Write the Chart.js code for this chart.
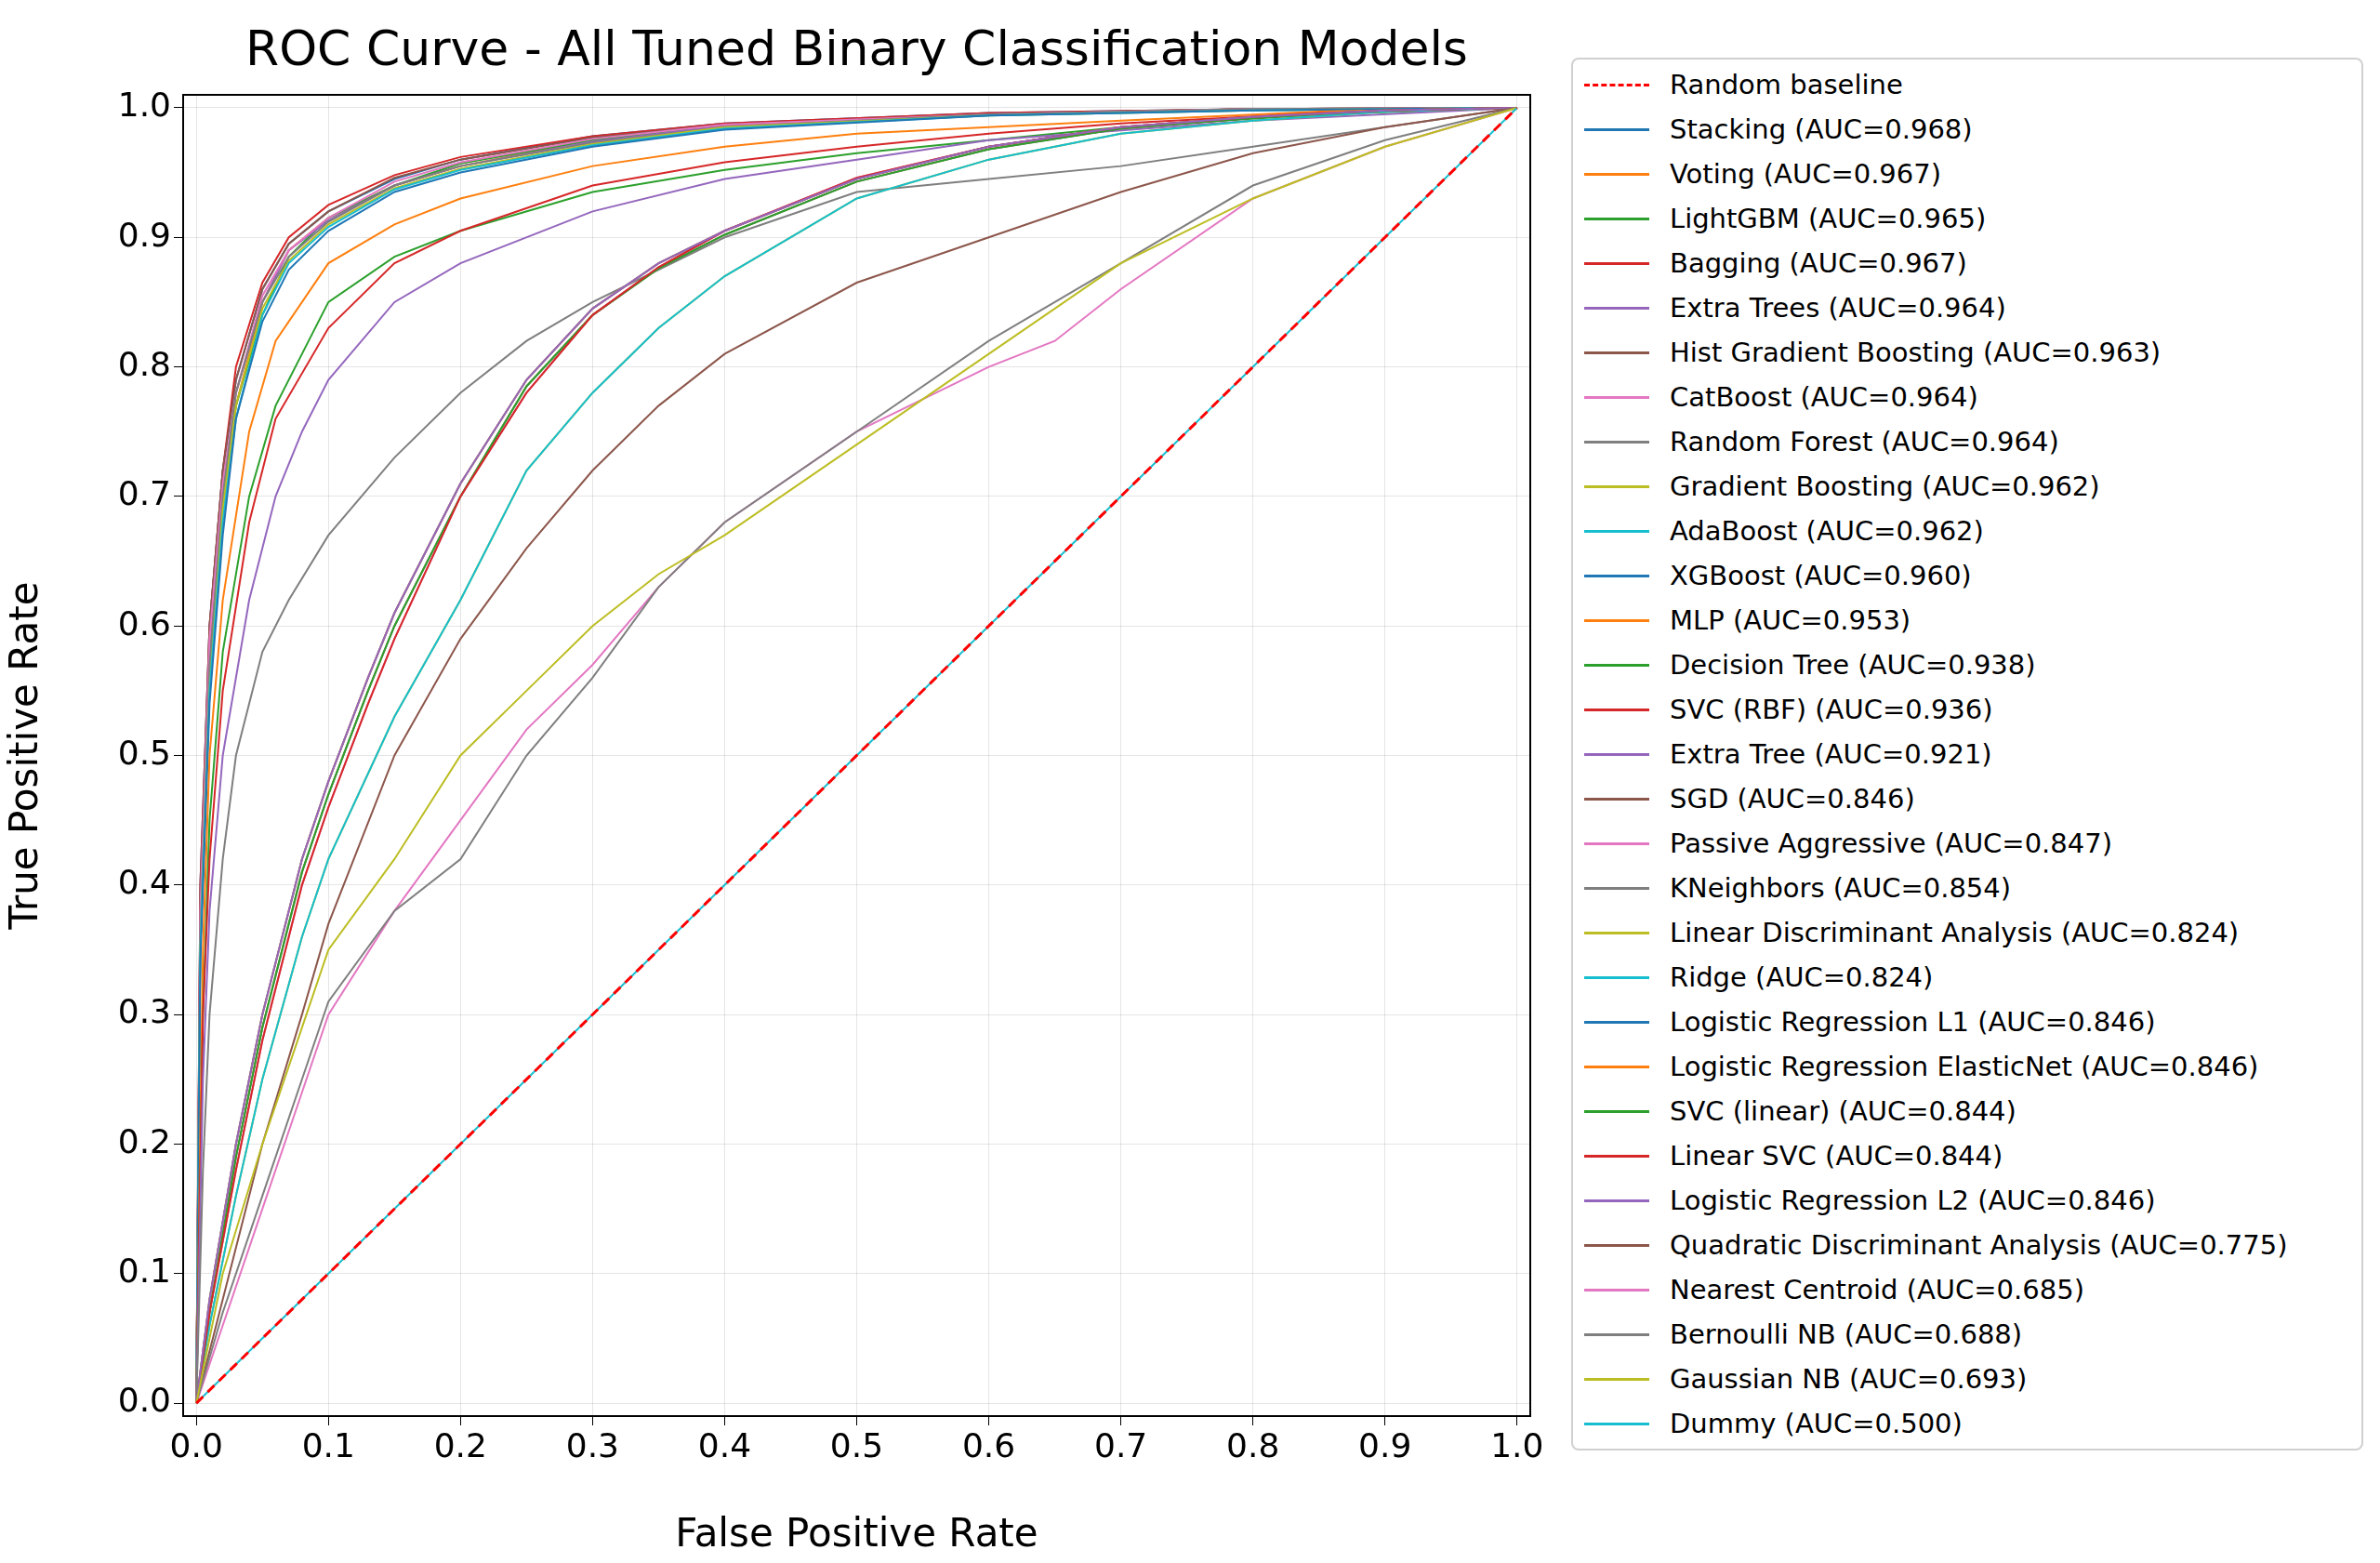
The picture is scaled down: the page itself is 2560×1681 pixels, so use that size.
<!DOCTYPE html>
<html><head><meta charset="utf-8">
<script src="https://cdn.jsdelivr.net/npm/chart.js@4.4.1/dist/chart.umd.min.js"></script>
<style>
body{margin:0;background:#fff;width:2560px;height:1681px;position:relative;font-family:"DejaVu Sans",sans-serif;overflow:hidden}
#wrap{position:absolute;left:0;top:0;width:1680px;height:1681px}
#title{position:absolute;left:197px;width:1449px;top:22px;text-align:center;font-size:52px;color:#000}
#legend{position:absolute;left:1690px;top:62px;width:852px;height:1498px;border:2px solid #d0d0d0;border-radius:8px;box-sizing:border-box}
.row{position:absolute;left:12px;height:48px;display:flex;align-items:center;font-size:29px;color:#000;white-space:nowrap}
.sw{width:70px;margin-right:22px;border-top:3px solid}
</style></head><body>
<div id="wrap"><canvas id="c"></canvas></div>
<div id="title">ROC Curve - All Tuned Binary Classification Models</div>
<div id="legend"></div>
<script>
const xTicks=[0,0.1,0.2,0.3,0.4,0.5,0.6,0.7,0.8,0.9,1.0];
const yTicks=[0,0.1,0.2,0.3,0.4,0.5,0.6,0.7,0.8,0.9,1.0];
const modelNames=["Stacking (AUC=0.968)","Voting (AUC=0.967)","LightGBM (AUC=0.965)","Bagging (AUC=0.967)","Extra Trees (AUC=0.964)","Hist Gradient Boosting (AUC=0.963)","CatBoost (AUC=0.964)","Random Forest (AUC=0.964)","Gradient Boosting (AUC=0.962)","AdaBoost (AUC=0.962)","XGBoost (AUC=0.960)","MLP (AUC=0.953)","Decision Tree (AUC=0.938)","SVC (RBF) (AUC=0.936)","Extra Tree (AUC=0.921)","SGD (AUC=0.846)","Passive Aggressive (AUC=0.847)","KNeighbors (AUC=0.854)","Linear Discriminant Analysis (AUC=0.824)","Ridge (AUC=0.824)","Logistic Regression L1 (AUC=0.846)","Logistic Regression ElasticNet (AUC=0.846)","SVC (linear) (AUC=0.844)","Linear SVC (AUC=0.844)","Logistic Regression L2 (AUC=0.846)","Quadratic Discriminant Analysis (AUC=0.775)","Nearest Centroid (AUC=0.685)","Bernoulli NB (AUC=0.688)","Gaussian NB (AUC=0.693)","Dummy (AUC=0.500)"];
const palette=["#1f77b4","#ff7f0e","#2ca02c","#d62728","#9467bd","#8c564b","#e377c2","#7f7f7f","#bcbd22","#17becf"];
const baselineX=[0,1], baselineY=[0,1];
// FPR / TPR per model
const fprTop=[0,0.003,0.01,0.02,0.03,0.05,0.07,0.1,0.15,0.2,0.3,0.4,0.6,0.8,1];
const tprStacking=[0,0.4,0.6,0.72,0.79,0.86,0.895,0.92,0.945,0.96,0.978,0.988,0.996,0.999,1];
const tprVoting=[0,0.38,0.58,0.7,0.77,0.85,0.89,0.915,0.94,0.955,0.975,0.987,0.995,0.999,1];
const tprLGBM=[0,0.36,0.56,0.69,0.77,0.84,0.885,0.915,0.94,0.957,0.975,0.986,0.995,0.999,1];
const tprBagging=[0,0.4,0.6,0.72,0.8,0.865,0.9,0.925,0.948,0.962,0.978,0.988,0.996,0.999,1];
const tprET=[0,0.37,0.57,0.7,0.78,0.85,0.89,0.913,0.94,0.955,0.974,0.986,0.995,0.999,1];
const tprHGB=[0,0.39,0.6,0.72,0.79,0.86,0.895,0.92,0.946,0.96,0.977,0.987,0.995,0.999,1];
const tprCat=[0,0.38,0.59,0.71,0.78,0.855,0.89,0.915,0.943,0.958,0.976,0.987,0.995,0.999,1];
const tprRF=[0,0.36,0.57,0.7,0.78,0.85,0.885,0.912,0.94,0.955,0.973,0.985,0.995,0.999,1];
const tprGB=[0,0.35,0.55,0.69,0.77,0.845,0.882,0.91,0.938,0.953,0.972,0.985,0.994,0.998,1];
const tprAda=[0,0.35,0.55,0.68,0.76,0.84,0.88,0.908,0.937,0.952,0.971,0.984,0.994,0.998,1];
const tprXGB=[0,0.34,0.54,0.67,0.76,0.835,0.875,0.905,0.935,0.95,0.97,0.983,0.994,0.998,1];
const fprMLP=[0,0.005,0.01,0.02,0.04,0.06,0.1,0.15,0.2,0.3,0.4,0.5,0.7,0.85,1];
const tprMLP=[0,0.35,0.5,0.62,0.75,0.82,0.88,0.91,0.93,0.955,0.97,0.98,0.99,0.997,1];
const fprDT=[0,0.005,0.01,0.02,0.04,0.06,0.1,0.15,0.2,0.3,0.4,0.5,0.7,0.85,1];
const tprDT=[0,0.3,0.45,0.58,0.7,0.77,0.85,0.885,0.905,0.935,0.952,0.965,0.985,0.995,1];
const fprSVC=[0,0.005,0.01,0.02,0.04,0.06,0.1,0.15,0.2,0.3,0.4,0.5,0.6,0.7,0.85,1];
const tprSVC=[0,0.3,0.42,0.55,0.68,0.76,0.83,0.88,0.905,0.94,0.958,0.97,0.98,0.988,0.996,1];
const fprXT=[0,0.005,0.01,0.02,0.04,0.06,0.08,0.1,0.15,0.2,0.3,0.4,0.5,0.6,0.8,1];
const tprXT=[0,0.25,0.38,0.5,0.62,0.7,0.75,0.79,0.85,0.88,0.92,0.945,0.96,0.975,0.99,1];
const fprKN=[0,0.005,0.01,0.02,0.03,0.05,0.07,0.1,0.15,0.2,0.25,0.3,0.4,0.5,0.6,0.7,0.8,0.9,1];
const tprKN=[0,0.18,0.3,0.42,0.5,0.58,0.62,0.67,0.73,0.78,0.82,0.85,0.9,0.935,0.945,0.955,0.97,0.985,1];
const fprLin=[0,0.01,0.03,0.05,0.08,0.1,0.13,0.15,0.2,0.25,0.3,0.35,0.4,0.5,0.6,0.7,0.8,0.9,1];
const tprLin=[0,0.08,0.2,0.3,0.42,0.48,0.56,0.61,0.71,0.79,0.845,0.88,0.905,0.945,0.97,0.985,0.993,0.998,1];
const tprSGD=[0,0.07,0.19,0.29,0.41,0.47,0.55,0.6,0.7,0.785,0.84,0.876,0.902,0.943,0.968,0.984,0.992,0.998,1];
const tprPA=[0,0.07,0.18,0.28,0.4,0.46,0.54,0.59,0.7,0.78,0.84,0.877,0.905,0.946,0.97,0.985,0.993,0.998,1];
const fprRidge=[0,0.01,0.03,0.05,0.08,0.1,0.15,0.2,0.25,0.3,0.35,0.4,0.5,0.6,0.7,0.8,0.9,1];
const tprRidge=[0,0.06,0.16,0.25,0.36,0.42,0.53,0.62,0.72,0.78,0.83,0.87,0.93,0.96,0.98,0.99,0.997,1];
const fprQDA=[0,0.02,0.05,0.08,0.1,0.15,0.2,0.25,0.3,0.35,0.4,0.5,0.6,0.7,0.8,0.9,1];
const tprQDA=[0,0.08,0.2,0.3,0.37,0.5,0.59,0.66,0.72,0.77,0.81,0.865,0.9,0.935,0.965,0.985,1];
const fprNC=[0,0.02,0.05,0.08,0.1,0.15,0.2,0.25,0.3,0.35,0.4,0.5,0.6,0.65,0.7,0.8,0.9,1];
const tprNC=[0,0.06,0.15,0.24,0.3,0.38,0.45,0.52,0.57,0.63,0.68,0.75,0.8,0.82,0.86,0.93,0.97,1];
const fprBNB=[0,0.02,0.05,0.08,0.1,0.15,0.2,0.25,0.3,0.35,0.4,0.5,0.6,0.7,0.8,0.9,1];
const tprBNB=[0,0.07,0.16,0.25,0.31,0.38,0.42,0.5,0.56,0.63,0.68,0.75,0.82,0.88,0.94,0.975,1];
const fprGNB=[0,0.02,0.05,0.08,0.1,0.15,0.2,0.25,0.3,0.35,0.4,0.5,0.6,0.7,0.8,0.9,1];
const tprGNB=[0,0.1,0.2,0.29,0.35,0.42,0.5,0.55,0.6,0.64,0.67,0.74,0.81,0.88,0.93,0.97,1];
const fprDummy=[0,1], tprDummy=[0,1];
const curves=[[fprTop,tprStacking],[fprTop,tprVoting],[fprTop,tprLGBM],[fprTop,tprBagging],[fprTop,tprET],[fprTop,tprHGB],[fprTop,tprCat],[fprTop,tprRF],[fprTop,tprGB],[fprTop,tprAda],[fprTop,tprXGB],[fprMLP,tprMLP],[fprDT,tprDT],[fprSVC,tprSVC],[fprXT,tprXT],[fprLin,tprSGD],[fprLin,tprPA],[fprKN,tprKN],[fprRidge,tprRidge],[fprRidge,tprRidge],[fprLin,tprLin],[fprLin,tprLin],[fprLin,tprSGD],[fprLin,tprPA],[fprLin,tprLin],[fprQDA,tprQDA],[fprNC,tprNC],[fprBNB,tprBNB],[fprGNB,tprGNB],[fprDummy,tprDummy]];
const pts=(xs,ys)=>xs.map((x,i)=>({x:x,y:ys[i]}));
const datasets=[{label:"Random baseline",data:pts(baselineX,baselineY),borderColor:"#ff0000",borderDash:[10,7],borderWidth:3,order:0}];
modelNames.forEach((n,i)=>datasets.push({label:n,data:pts(curves[i][0],curves[i][1]),borderColor:palette[i%10],borderWidth:2,order:100-i}));
const leg=document.getElementById('legend');
datasets.forEach((d,i)=>{const r=document.createElement('div');r.className='row';r.style.top=(3+i*48)+'px';
r.innerHTML='<span class="sw" style="border-top:3px '+(i==0?'dashed':'solid')+' '+d.borderColor+'"></span>'+d.label;leg.appendChild(r);});
const cv=document.getElementById('c');cv.width=1680;cv.height=1681;
const tick=a=>a.map(v=>({value:v}));
new Chart(cv,{type:'line',data:{datasets:datasets},options:{responsive:false,animation:false,parsing:true,
 elements:{point:{radius:0},line:{tension:0}},
 layout:{padding:{top:102,right:34,left:0,bottom:0}},
 plugins:{legend:{display:false},tooltip:{enabled:false}},
 scales:{
  x:{type:'linear',min:-0.01,max:1.01,afterBuildTicks:s=>{s.ticks=tick(xTicks)},afterFit:s=>{s.height=158},
   grid:{color:'rgba(0,0,0,0.1)',drawTicks:true,tickLength:10,tickColor:'#000'},border:{color:'#000',width:2},
   ticks:{color:'#000',font:{size:36,family:'DejaVu Sans'},callback:v=>v.toFixed(1),maxRotation:0},
   title:{display:true,text:'False Positive Rate',color:'#000',font:{size:42,family:'DejaVu Sans'}}},
  y:{type:'linear',min:-0.01,max:1.01,afterBuildTicks:s=>{s.ticks=tick(yTicks)},afterFit:s=>{s.width=197},
   grid:{color:'rgba(0,0,0,0.1)',drawTicks:true,tickLength:10,tickColor:'#000'},border:{color:'#000',width:2},
   ticks:{color:'#000',font:{size:36,family:'DejaVu Sans'},callback:v=>v.toFixed(1)},
   title:{display:true,text:'True Positive Rate',color:'#000',font:{size:42,family:'DejaVu Sans'}}}
 }},
 plugins:[{id:'frame',afterDraw(c){const a=c.chartArea,g=c.ctx;g.save();g.strokeStyle='#000';g.lineWidth=2;g.strokeRect(a.left,a.top,a.right-a.left,a.bottom-a.top);g.restore();}}]
});
</script></body></html>
